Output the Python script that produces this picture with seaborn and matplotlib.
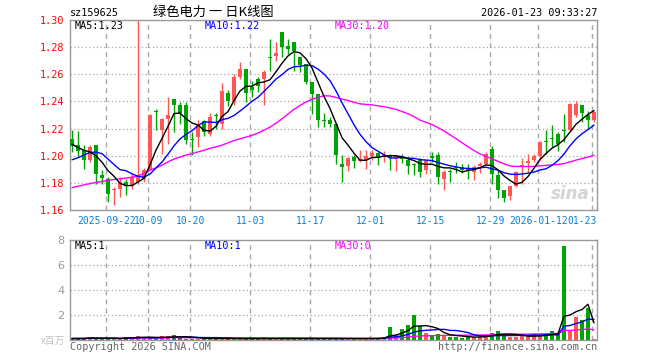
import numpy as np
import pandas as pd
import matplotlib
matplotlib.use("Agg")
import matplotlib.pyplot as plt
import seaborn as sns

# ---------------- data ----------------
dates = (
    ["2025-09-%s" % d for d in ["12", "15", "16", "17", "18", "19", "22", "23", "24", "25", "26", "29", "30"]]
    + ["2025-10-%s" % d for d in ["09", "10", "13", "14", "15", "16", "17", "20", "21", "22", "23", "24", "27", "28", "29", "30", "31"]]
    + ["2025-11-%s" % d for d in ["03", "04", "05", "06", "07", "10", "11", "12", "13", "14", "17", "18", "19", "20", "21", "24", "25", "26", "27", "28"]]
    + ["2025-12-%s" % d for d in ["01", "02", "03", "04", "05", "08", "09", "10", "11", "12", "15", "16", "17", "18", "19", "22", "23", "24", "25", "26", "29", "30", "31"]]
    + ["2026-01-%s" % d for d in ["05", "06", "07", "08", "09", "12", "13", "14", "15", "16", "19", "20", "21", "22", "23"]]
)

opens = [1.2125, 1.2076, 1.2039, 1.1966, 1.2076, 1.1860, 1.1831, 1.1750, 1.1757, 1.1806,
         1.1775, 1.1806, 1.1831, 1.1897, 1.2326, 1.2186, 1.2272, 1.2419, 1.2377, 1.2377,
         1.2125, 1.2137, 1.2255, 1.2162, 1.2297, 1.2235, 1.2461, 1.2402, 1.2583, 1.2640,
         1.2510, 1.2566, 1.2566, 1.2730, 1.2733, 1.2909, 1.2811, 1.2836, 1.2730, 1.2676,
         1.2542, 1.2456, 1.2265, 1.2265, 1.2230, 1.1941, 1.1922, 1.1990, 1.1958, 1.1966,
         1.1995, 1.2020, 1.1990, 1.1998, 1.1983, 1.1985, 1.1966, 1.1941, 1.1966, 1.1892,
         1.1995, 1.2002, 1.1831, 1.1885, 1.1917, 1.1917, 1.1904, 1.1880, 1.1922, 1.1941,
         1.2051, 1.1860, 1.1745, 1.1701, 1.1775, 1.1922, 1.1946, 1.1966, 1.1995, 1.2105,
         1.2132, 1.2162, 1.2186, 1.2186, 1.2297, 1.2377, 1.2297, 1.2260]
highs = [1.2186, 1.2181, 1.2076, 1.2076, 1.2081, 1.1892, 1.1843, 1.1770, 1.1843, 1.1831,
         1.1868, 1.4000, 1.1912, 1.2309, 1.2346, 1.2279, 1.2431, 1.2419, 1.2395, 1.2395,
         1.2174, 1.2260, 1.2265, 1.2314, 1.2314, 1.2534, 1.2485, 1.2603, 1.2689, 1.2640,
         1.2554, 1.2583, 1.2632, 1.2860, 1.2836, 1.2909, 1.2860, 1.2836, 1.2730, 1.2676,
         1.2542, 1.2456, 1.2314, 1.2284, 1.2235, 1.2002, 1.1990, 1.2002, 1.2044, 1.2039,
         1.2039, 1.2027, 1.2032, 1.2010, 1.2002, 1.2010, 1.1990, 1.1946, 1.1985, 1.1971,
         1.2027, 1.2027, 1.1892, 1.1904, 1.1953, 1.1941, 1.1936, 1.1929, 1.1953, 1.2027,
         1.2069, 1.1892, 1.1745, 1.1775, 1.1885, 1.1985, 1.2015, 1.2015, 1.2105, 1.2186,
         1.2223, 1.2174, 1.2309, 1.2387, 1.2402, 1.2377, 1.2333, 1.2333]
lows = [1.2027, 1.1990, 1.1904, 1.1953, 1.1794, 1.1794, 1.1659, 1.1635, 1.1696, 1.1708,
        1.1757, 1.1794, 1.1806, 1.1892, 1.2186, 1.2015, 1.2088, 1.2174, 1.2235, 1.2088,
        1.2002, 1.2064, 1.2142, 1.2142, 1.2199, 1.2199, 1.2363, 1.2370, 1.2566, 1.2395,
        1.2431, 1.2468, 1.2377, 1.2623, 1.2701, 1.2725, 1.2750, 1.2623, 1.2615, 1.2529,
        1.2309, 1.2211, 1.2211, 1.2211, 1.1936, 1.1806, 1.1887, 1.1912, 1.1953, 1.1904,
        1.1966, 1.1929, 1.1953, 1.1897, 1.1887, 1.1946, 1.1868, 1.1855, 1.1843, 1.1863,
        1.1953, 1.1789, 1.1745, 1.1806, 1.1873, 1.1873, 1.1831, 1.1819, 1.1873, 1.1929,
        1.1794, 1.1691, 1.1659, 1.1676, 1.1770, 1.1794, 1.1880, 1.1953, 1.1966, 1.2015,
        1.2064, 1.2034, 1.2100, 1.2174, 1.2284, 1.2248, 1.2199, 1.2248]
closes = [1.2071, 1.2032, 1.1966, 1.2064, 1.1863, 1.1838, 1.1721, 1.1757, 1.1806, 1.1775,
          1.1843, 1.1850, 1.1897, 1.2297, 1.2319, 1.2272, 1.2297, 1.2370, 1.2314, 1.2113,
          1.2113, 1.2223, 1.2174, 1.2284, 1.2289, 1.2475, 1.2402, 1.2578, 1.2640, 1.2461,
          1.2485, 1.2517, 1.2615, 1.2721, 1.2755, 1.2799, 1.2787, 1.2775, 1.2672, 1.2542,
          1.2456, 1.2260, 1.2255, 1.2230, 1.2002, 1.1917, 1.1985, 1.1958, 1.1973, 1.1998,
          1.2020, 1.1990, 1.2002, 1.1990, 1.1998, 1.1978, 1.1922, 1.1934, 1.1880, 1.1966,
          1.1985, 1.1843, 1.1880, 1.1877, 1.1909, 1.1892, 1.1897, 1.1917, 1.1941, 1.2015,
          1.1863, 1.1745, 1.1691, 1.1775, 1.1880, 1.1929, 1.1958, 1.1995, 1.2100, 1.2098,
          1.2125, 1.2088, 1.2179, 1.2382, 1.2382, 1.2314, 1.2265, 1.2321]
volumes = [0.12, 0.12, 0.12, 0.24, 0.12, 0.12, 0.12, 0.12, 0.12, 0.22,
           0.24, 0.32, 0.20, 0.15, 0.12, 0.30, 0.30, 0.38, 0.22, 0.12,
           0.12, 0.12, 0.12, 0.12, 0.12, 0.12, 0.12, 0.12, 0.12, 0.12,
           0.12, 0.12, 0.12, 0.12, 0.12, 0.12, 0.12, 0.12, 0.12, 0.12,
           0.12, 0.12, 0.12, 0.12, 0.12, 0.12, 0.12, 0.12, 0.12, 0.12,
           0.12, 0.15, 0.24, 1.07, 0.40, 0.88, 1.20, 2.00, 1.12, 0.56,
           0.43, 0.48, 0.40, 0.24, 0.27, 0.19, 0.24, 0.24, 0.27, 0.40,
           0.56, 0.72, 0.43, 0.27, 0.27, 0.29, 0.24, 0.48, 0.32, 0.48,
           0.72, 0.48, 7.52, 0.77, 1.84, 1.57, 2.59, 0.10]

# moving-average values at the left edge (need history before the window)
ma5_head = [1.2085, 1.2060, 1.2040, 1.2028]
ma10_head = [1.1970, 1.1985, 1.2005, 1.2024, 1.2027, 1.2015, 1.1975, 1.1935, 1.1897]
ma30_head = [1.1765, 1.1775, 1.1785, 1.1795, 1.1803, 1.1810, 1.1818, 1.1825, 1.1830, 1.1835,
             1.1842, 1.1850, 1.1870, 1.1895, 1.1910, 1.1930, 1.1955, 1.1975, 1.1990, 1.2005,
             1.2015, 1.2028, 1.2040, 1.2055, 1.2065, 1.2078, 1.2095, 1.2112, 1.2125]

tick_dates = ["2025-09-22", "2025-10-09", "2025-10-20", "2025-11-03", "2025-11-17",
              "2025-12-01", "2025-12-15", "2025-12-29", "2026-01-12", "2026-01-23"]
tick_labels = ["2025-09-22", "10-09", "10-20", "11-03", "11-17",
               "12-01", "12-15", "12-29", "2026-01-12", "01-23"]
price_ticks = [1.16, 1.18, 1.20, 1.22, 1.24, 1.26, 1.28, 1.30]
vol_ticks = [2, 4, 6, 8]

# ---------------- frame ----------------
df = pd.DataFrame({"date": dates, "open": opens, "high": highs, "low": lows,
                   "close": closes, "volume": volumes})
df["i"] = np.arange(len(df))


def ma_with_head(series, n, head):
    m = series.rolling(n).mean()
    m.iloc[:len(head)] = head
    return m


df["ma5"] = ma_with_head(df["close"], 5, ma5_head)
df["ma10"] = ma_with_head(df["close"], 10, ma10_head)
df["ma30"] = ma_with_head(df["close"], 30, ma30_head)
df["vma5"] = df["volume"].rolling(5, min_periods=1).mean()
df["vma10"] = df["volume"].rolling(10, min_periods=1).mean()
df["vma30"] = df["volume"].rolling(30, min_periods=1).mean()

RED = "#ff5656"
GREEN = "#00a400"
GRID = "#a8a8a8"
FRAME = "#999999"
up = df["close"] >= df["open"]
colors = np.where(up, RED, GREEN)

sns.set_theme(style="white")
plt.rcParams["font.family"] = ["DejaVu Sans Mono", "Noto Sans CJK SC"]

W, H = 660, 360
FS = 7.0
fig = plt.figure(figsize=(W / 100, H / 100), dpi=100)


def rect(l, t, r, b):
    return [l / W, 1 - b / H, (r - l) / W, (b - t) / H]


ax = fig.add_axes(rect(70, 20, 597, 210))
axv = fig.add_axes(rect(70, 240, 597, 340))

xlim = (-1 / 3, len(df) - 0.5)
tick_pos = [dates.index(d) - 0.3 for d in tick_dates]

for a in (ax, axv):
    a.set_xlim(*xlim)
    for s in a.spines.values():
        s.set_color(FRAME)
        s.set_linewidth(1.0)
    for xp in tick_pos:
        a.axvline(xp, color=GRID, lw=1.0, ls=(0, (3.5, 3)), zorder=0)
    a.set_xticks([])

# ---- price panel ----
ax.set_ylim(1.16, 1.30)
for yv in price_ticks[1:-1]:
    ax.axhline(yv, color=GRID, lw=0.9, ls=(0, (1, 2)), zorder=0)

ax.vlines(df["i"], df["low"], df["high"], colors=colors, lw=1.0, zorder=2)
body_bottom = np.minimum(df["open"], df["close"])
body_h = np.maximum(np.abs(df["close"] - df["open"]), 0.0008)
ax.bar(df["i"], body_h, bottom=body_bottom, width=0.8, color=colors, linewidth=0, zorder=3)

sns.lineplot(data=df, x="i", y="ma30", ax=ax, color="#ff00ff", lw=1.0, zorder=4, legend=False)
sns.lineplot(data=df, x="i", y="ma10", ax=ax, color="#0000ff", lw=1.0, zorder=4, legend=False)
sns.lineplot(data=df, x="i", y="ma5", ax=ax, color="#000000", lw=1.0, zorder=5, legend=False)
ax.set_xlim(*xlim)
ax.set_ylim(1.16, 1.30)
ax.set_xlabel("")
ax.set_ylabel("")
ax.set_yticks(price_ticks)
ax.set_yticklabels(["%.2f" % v for v in price_ticks], color="#ff0000", fontsize=7.3)
ax.tick_params(axis="y", length=0, pad=4)

for xp, lab in zip(tick_pos[:-1], tick_labels[:-1]):
    ax.text(xp, -0.03, lab, transform=ax.get_xaxis_transform(), ha="center", va="top",
            color="#0a7fd4", fontsize=FS)
ax.text(1.0, -0.03, tick_labels[-1], transform=ax.transAxes, ha="right", va="top",
        color="#0a7fd4", fontsize=FS,
        bbox=dict(facecolor="white", edgecolor="none", pad=0.3))

last = df.iloc[-1]
ax.text(5 / 527, 1 - 6 / 190, "MA5:%.2f" % last["ma5"], transform=ax.transAxes,
        ha="left", va="center", color="black", fontsize=7.3)
ax.text(135 / 527, 1 - 6 / 190, "MA10:%.2f" % last["ma10"], transform=ax.transAxes,
        ha="left", va="center", color="#0000ff", fontsize=7.3)
ax.text(265 / 527, 1 - 6 / 190, "MA30:%.2f" % last["ma30"], transform=ax.transAxes,
        ha="left", va="center", color="#ff00ff", fontsize=7.3)
ax.text(0.985, 0.085, "sina", transform=ax.transAxes, ha="right", va="center",
        color="#d4d4d4", fontsize=12, fontweight="bold", style="italic",
        family="DejaVu Sans", zorder=1)

# ---- volume panel ----
axv.set_ylim(0, 8)
for yv in vol_ticks[:-1]:
    axv.axhline(yv, color=GRID, lw=0.9, ls=(0, (1, 2)), zorder=0)
axv.bar(df["i"], df["volume"], width=0.8, color=colors, linewidth=0, zorder=2)
sns.lineplot(data=df, x="i", y="vma30", ax=axv, color="#ff00ff", lw=1.0, zorder=4, legend=False)
sns.lineplot(data=df, x="i", y="vma10", ax=axv, color="#0000ff", lw=1.0, zorder=4, legend=False)
sns.lineplot(data=df, x="i", y="vma5", ax=axv, color="#000000", lw=1.0, zorder=5, legend=False)
axv.set_xlim(*xlim)
axv.set_ylim(0, 8)
axv.set_xlabel("")
axv.set_ylabel("")
axv.set_yticks(vol_ticks)
axv.set_yticklabels([str(v) for v in vol_ticks], color="#9a9a9a", fontsize=8, family="DejaVu Sans")
axv.tick_params(axis="y", length=0, pad=4)
axv.text(5 / 527, 1 - 6 / 100, "MA5:%d" % int(last["vma5"]), transform=axv.transAxes,
         ha="left", va="center", color="black", fontsize=7.3)
axv.text(135 / 527, 1 - 6 / 100, "MA10:%d" % int(last["vma10"]), transform=axv.transAxes,
         ha="left", va="center", color="#0000ff", fontsize=7.3)
axv.text(265 / 527, 1 - 6 / 100, "MA30:%d" % int(last["vma30"]), transform=axv.transAxes,
         ha="left", va="center", color="#ff00ff", fontsize=7.3)

# ---- header / footer texts ----
fig.text(70 / W, 1 - 13 / H, "sz159625", ha="left", va="center", fontsize=7.3, color="black")
fig.text(213 / W, 1 - 12 / H, "绿色电力 一 日K线图", ha="center", va="center", fontsize=9.5,
         color="black", family=["Noto Sans CJK SC", "DejaVu Sans"])
fig.text(597 / W, 1 - 13 / H, "2026-01-23 09:33:27", ha="right", va="center", fontsize=7.3,
         color="black")
fig.text(65 / W, 1 - 341 / H, "x百万", ha="right", va="center", fontsize=7, color="#c0c0c0",
         family=["Noto Sans CJK SC", "DejaVu Sans"])
fig.text(70 / W, 1 - 346.5 / H, "Copyright 2026 SINA.COM", ha="left", va="center",
         fontsize=7.3, color="#666666")
fig.text(597 / W, 1 - 346.5 / H, "http://finance.sina.com.cn", ha="right", va="center",
         fontsize=7.3, color="#666666")

fig.savefig("out.png", dpi=100, facecolor="white")
